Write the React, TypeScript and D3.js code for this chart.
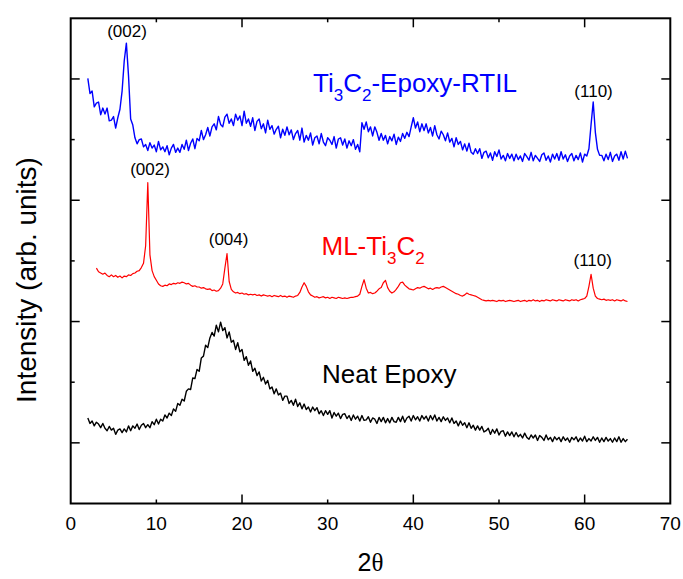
import React from 'react';
import * as d3 from 'd3';

const W = 683;
const H = 579;

// 2θ sampling of the digitised patterns
const STEP = 0.25;
const rtilStart = 2.0;
const mlStart = 3.0;
const epoxyStart = 2.0;

const xTickValues = [0, 10, 20, 30, 40, 50, 60, 70];
const xMajorInner = [20, 40, 60];
const xMinorInner = [10, 30, 50];
const yMajorInner = [1, 3, 5, 7];
const yMinorInner = [2, 4, 6];

// Ti3C2-Epoxy-RTIL (blue), from 2.0° every 0.25°
const epoxyRtil = [
  7.01, 6.76, 6.80, 6.54, 6.60, 6.62, 6.41, 6.52, 6.42, 6.52, 6.31, 6.32, 6.38, 6.19, 6.36, 6.50, 6.80, 7.30, 7.59, 7.05,
  6.34, 6.24, 6.03, 5.93, 6.00, 6.01, 5.88, 5.92, 5.82, 5.95, 5.86, 5.91, 5.80, 5.97, 5.83, 5.88, 5.80, 5.90, 5.75, 5.86,
  5.92, 5.79, 5.86, 5.79, 5.92, 5.84, 5.99, 5.82, 5.94, 6.01, 5.85, 6.02, 5.98, 6.15, 6.00, 6.08, 6.20, 6.06, 6.21, 6.26,
  6.16, 6.38, 6.25, 6.21, 6.37, 6.42, 6.27, 6.34, 6.23, 6.42, 6.32, 6.39, 6.23, 6.47, 6.27, 6.34, 6.22, 6.36, 6.15, 6.30,
  6.34, 6.18, 6.26, 6.11, 6.32, 6.17, 6.23, 6.09, 6.17, 6.22, 6.03, 6.17, 6.07, 6.21, 6.08, 6.16, 6.00, 6.10, 6.15, 5.99,
  6.19, 5.96, 6.07, 5.99, 6.11, 5.91, 6.03, 6.06, 5.93, 6.10, 5.96, 5.90, 6.03, 5.99, 5.92, 6.05, 5.86, 6.01, 6.03, 5.91,
  6.01, 5.86, 5.98, 5.90, 6.00, 5.84, 5.92, 5.80, 6.28, 6.17, 6.29, 6.13, 6.21, 6.06, 6.21, 6.12, 5.99, 6.10, 5.99, 6.07,
  5.93, 6.05, 5.98, 6.09, 5.92, 6.04, 5.97, 6.10, 6.02, 6.12, 6.05, 6.21, 6.36, 6.19, 6.29, 6.13, 6.26, 6.15, 6.26, 6.11,
  6.20, 6.06, 6.23, 6.08, 6.01, 6.14, 6.08, 5.98, 6.11, 5.96, 6.02, 5.88, 6.03, 5.92, 5.97, 5.83, 5.93, 5.81, 5.94, 5.79,
  5.76, 5.85, 5.77, 5.85, 5.69, 5.79, 5.81, 5.70, 5.78, 5.66, 5.80, 5.72, 5.83, 5.68, 5.74, 5.65, 5.77, 5.69, 5.76, 5.65,
  5.76, 5.67, 5.73, 5.64, 5.77, 5.72, 5.66, 5.79, 5.65, 5.74, 5.69, 5.64, 5.75, 5.78, 5.66, 5.73, 5.63, 5.76, 5.68, 5.77,
  5.66, 5.80, 5.68, 5.75, 5.64, 5.73, 5.77, 5.65, 5.74, 5.67, 5.78, 5.63, 5.76, 5.73, 5.85, 6.25, 6.62, 6.12, 5.84, 5.74,
  5.74, 5.65, 5.76, 5.67, 5.79, 5.64, 5.73, 5.76, 5.66, 5.80, 5.68, 5.81, 5.69,
];

// ML-Ti3C2 (red), from 3.0° every 0.25°
const mlTi3C2 = [
  3.88, 3.82, 3.80, 3.78, 3.80, 3.76, 3.74, 3.77, 3.74, 3.76, 3.73, 3.75, 3.72, 3.75, 3.74, 3.77, 3.76, 3.79, 3.80, 3.83,
  3.84, 3.89, 3.96, 4.25, 5.29, 4.10, 3.84, 3.74, 3.68, 3.62, 3.59, 3.58, 3.60, 3.59, 3.62, 3.61, 3.63, 3.62, 3.64, 3.63,
  3.65, 3.64, 3.62, 3.63, 3.60, 3.58, 3.59, 3.57, 3.57, 3.55, 3.56, 3.54, 3.53, 3.54, 3.51, 3.52, 3.50, 3.51, 3.55, 3.62,
  3.88, 4.12, 3.66, 3.53, 3.49, 3.47, 3.48, 3.46, 3.47, 3.45, 3.46, 3.44, 3.45, 3.44, 3.45, 3.43, 3.44, 3.42, 3.44, 3.43,
  3.42, 3.43, 3.41, 3.43, 3.42, 3.41, 3.43, 3.41, 3.42, 3.40, 3.42, 3.41, 3.40, 3.42, 3.43, 3.48, 3.57, 3.64, 3.58, 3.49,
  3.44, 3.42, 3.40, 3.41, 3.39, 3.40, 3.41, 3.39, 3.40, 3.38, 3.40, 3.39, 3.38, 3.40, 3.39, 3.38, 3.39, 3.38, 3.39, 3.40,
  3.40, 3.41, 3.42, 3.45, 3.58, 3.69, 3.55, 3.47, 3.48, 3.46, 3.47, 3.50, 3.54, 3.56, 3.64, 3.68, 3.56, 3.50, 3.47, 3.49,
  3.53, 3.58, 3.64, 3.65, 3.60, 3.57, 3.54, 3.53, 3.52, 3.54, 3.56, 3.55, 3.57, 3.58, 3.56, 3.54, 3.55, 3.53, 3.55, 3.56,
  3.55, 3.57, 3.58, 3.56, 3.54, 3.52, 3.50, 3.48, 3.46, 3.45, 3.43, 3.42, 3.44, 3.47, 3.45, 3.44, 3.43, 3.42, 3.40, 3.38,
  3.36, 3.35, 3.34, 3.35, 3.34, 3.35, 3.34, 3.33, 3.35, 3.34, 3.35, 3.33, 3.34, 3.35, 3.34, 3.33, 3.34, 3.35, 3.33, 3.34,
  3.35, 3.33, 3.35, 3.34, 3.36, 3.34, 3.35, 3.33, 3.35, 3.34, 3.36, 3.35, 3.34, 3.36, 3.35, 3.34, 3.36, 3.35, 3.34, 3.36,
  3.35, 3.34, 3.36, 3.35, 3.36, 3.34, 3.36, 3.37, 3.38, 3.42, 3.58, 3.78, 3.55, 3.42, 3.38, 3.37, 3.36, 3.37, 3.35, 3.36,
  3.35, 3.36, 3.34, 3.36, 3.35, 3.34, 3.36, 3.34, 3.33,
];

// Neat Epoxy (black), from 2.0° every 0.25°
const neatEpoxy = [
  1.41, 1.32, 1.36, 1.28, 1.34, 1.31, 1.25, 1.32, 1.24, 1.20, 1.27, 1.21, 1.24, 1.14, 1.21, 1.23, 1.17, 1.23, 1.18, 1.28,
  1.20, 1.28, 1.24, 1.31, 1.22, 1.29, 1.32, 1.25, 1.30, 1.25, 1.35, 1.30, 1.39, 1.31, 1.39, 1.36, 1.46, 1.41, 1.49, 1.45,
  1.56, 1.52, 1.65, 1.62, 1.72, 1.69, 1.85, 1.89, 1.88, 2.07, 2.06, 2.21, 2.18, 2.40, 2.43, 2.61, 2.57, 2.73, 2.82, 2.76,
  2.94, 2.83, 2.99, 2.85, 2.90, 2.73, 2.83, 2.66, 2.69, 2.54, 2.65, 2.50, 2.54, 2.36, 2.42, 2.28, 2.35, 2.18, 2.23, 2.11,
  2.17, 2.02, 2.08, 1.97, 2.03, 1.89, 1.92, 1.81, 1.89, 1.79, 1.82, 1.70, 1.77, 1.77, 1.65, 1.70, 1.62, 1.72, 1.60, 1.66,
  1.56, 1.64, 1.55, 1.59, 1.51, 1.59, 1.53, 1.58, 1.48, 1.53, 1.45, 1.53, 1.47, 1.53, 1.41, 1.50, 1.44, 1.49, 1.40, 1.47,
  1.48, 1.40, 1.45, 1.37, 1.46, 1.39, 1.44, 1.36, 1.45, 1.37, 1.38, 1.43, 1.34, 1.41, 1.39, 1.32, 1.42, 1.35, 1.42, 1.33,
  1.40, 1.33, 1.42, 1.35, 1.34, 1.42, 1.35, 1.44, 1.34, 1.41, 1.44, 1.36, 1.45, 1.38, 1.43, 1.36, 1.45, 1.39, 1.44, 1.36,
  1.45, 1.38, 1.46, 1.36, 1.42, 1.35, 1.43, 1.37, 1.41, 1.33, 1.41, 1.32, 1.36, 1.28, 1.36, 1.29, 1.33, 1.25, 1.33, 1.24,
  1.29, 1.21, 1.28, 1.21, 1.27, 1.18, 1.20, 1.24, 1.14, 1.22, 1.16, 1.23, 1.13, 1.19, 1.20, 1.11, 1.18, 1.12, 1.18, 1.10,
  1.17, 1.10, 1.14, 1.08, 1.16, 1.09, 1.06, 1.13, 1.08, 1.13, 1.04, 1.12, 1.09, 1.04, 1.13, 1.05, 1.09, 1.02, 1.10, 1.05,
  1.09, 1.02, 1.10, 1.04, 1.08, 1.01, 1.09, 1.05, 1.10, 1.02, 1.08, 1.03, 1.11, 1.02, 1.07, 1.03, 1.10, 1.04, 1.09, 1.01,
  1.08, 1.02, 1.09, 1.03, 1.07, 1.01, 1.08, 1.02, 1.10, 1.01, 1.07, 1.02, 1.06,
];

// peak labels: [text, 2θ, intensity]
const peakLabels: [string, number, number][] = [
  ['(002)', 6.57, 7.69],
  ['(110)', 61.04, 6.71],
  ['(002)', 9.26, 5.41],
  ['(004)', 18.43, 4.27],
  ['(110)', 60.94, 3.91],
];

const FONT = "'Liberation Sans', Arial, Helvetica, sans-serif";

export default function App() {
  const x = d3.scaleLinear().domain([0, 70]).range([70.7, 670.3]);
  const y = d3.scaleLinear().domain([0, 8]).range([503.5, 18.3]);
  const [x0, x1] = x.range();
  const [y0, y1] = y.range();

  const path = (start: number, vals: number[]) =>
    d3
      .line<number>()
      .x((_, i) => x(start + i * STEP))
      .y((d) => y(d))(vals) || '';

  const sub = (t: string) => (
    <tspan fontSize={17} dy={9}>
      {t}
    </tspan>
  );

  return (
    <svg
      width={W}
      height={H}
      style={{ position: 'absolute', left: 0, top: 0, background: '#fff' }}
      fontFamily={FONT}
    >
      <rect x={0} y={0} width={W} height={H} fill="#fff" />
      {/* series */}
      <path d={path(epoxyStart, neatEpoxy)} fill="none" stroke="#000" strokeWidth={1.4} strokeLinejoin="round" />
      <path d={path(mlStart, mlTi3C2)} fill="none" stroke="#ff0000" strokeWidth={1.2} strokeLinejoin="round" />
      <path d={path(rtilStart, epoxyRtil)} fill="none" stroke="#0000ff" strokeWidth={1.4} strokeLinejoin="round" />

      {/* frame */}
      <rect x={x0} y={y1} width={x1 - x0} height={y0 - y1} fill="none" stroke="#000" strokeWidth={2} />
      {/* x ticks bottom & top */}
      {xMajorInner.map((v) => (
        <g key={'xM' + v}>
          <line x1={x(v)} x2={x(v)} y1={y0} y2={y0 - 9} stroke="#000" strokeWidth={1.5} />
          <line x1={x(v)} x2={x(v)} y1={y1} y2={y1 + 9} stroke="#000" strokeWidth={1.5} />
        </g>
      ))}
      {xMinorInner.map((v) => (
        <g key={'xm' + v}>
          <line x1={x(v)} x2={x(v)} y1={y0} y2={y0 - 4} stroke="#000" strokeWidth={1.5} />
          <line x1={x(v)} x2={x(v)} y1={y1} y2={y1 + 4} stroke="#000" strokeWidth={1.5} />
        </g>
      ))}
      {yMajorInner.map((v) => (
        <g key={'yM' + v}>
          <line x1={x0} x2={x0 + 9} y1={y(v)} y2={y(v)} stroke="#000" strokeWidth={1.5} />
          <line x1={x1} x2={x1 - 9} y1={y(v)} y2={y(v)} stroke="#000" strokeWidth={1.5} />
        </g>
      ))}
      {yMinorInner.map((v) => (
        <g key={'ym' + v}>
          <line x1={x0} x2={x0 + 4} y1={y(v)} y2={y(v)} stroke="#000" strokeWidth={1.5} />
          <line x1={x1} x2={x1 - 4} y1={y(v)} y2={y(v)} stroke="#000" strokeWidth={1.5} />
        </g>
      ))}
      {/* x tick labels */}
      {xTickValues.map((v) => (
        <text key={'xl' + v} x={x(v)} y={530} textAnchor="middle" fontSize={19} fill="#000">
          {v}
        </text>
      ))}
      {/* axis titles */}
      <text x={x(35)} y={571} textAnchor="middle" fontSize={25} fill="#000">
        2<tspan fontFamily="'Liberation Serif', 'Times New Roman', serif">θ</tspan>
      </text>
      <text transform="translate(36,280) rotate(-90)" textAnchor="middle" fontSize={28} fill="#000">
        Intensity (arb. units)
      </text>

      {/* peak labels */}
      {peakLabels.map(([t, px, py], i) => (
        <text key={'pk' + i} x={x(px)} y={y(py)} textAnchor="middle" fontSize={17} fill="#000">
          {t}
        </text>
      ))}

      {/* series labels */}
      <text x={x(28.29)} y={y(6.785)} fontSize={26} fill="#0000ff">
        Ti{sub('3')}
        <tspan dy={-9}>C</tspan>
        {sub('2')}
        <tspan dy={-9}>-Epoxy-RTIL</tspan>
      </text>
      <text x={x(29.28)} y={y(4.097)} fontSize={26} fill="#ff0000">
        ML-Ti{sub('3')}
        <tspan dy={-9}>C</tspan>
        {sub('2')}
      </text>
      <text x={x(29.34)} y={y(1.987)} fontSize={26} fill="#000">
        Neat Epoxy
      </text>
    </svg>
  );
}
